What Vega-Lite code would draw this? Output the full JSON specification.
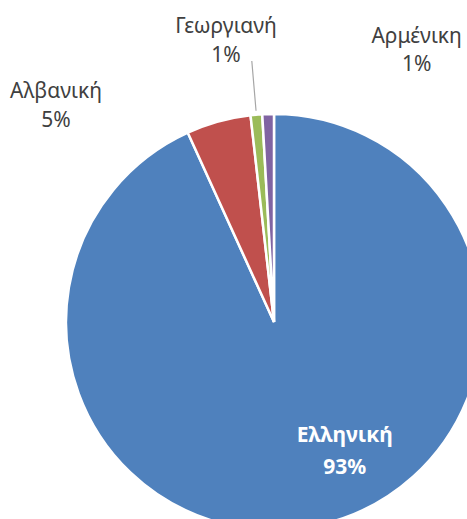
{
  "$schema": "https://vega.github.io/schema/vega-lite/v6.json",
  "width": 548,
  "height": 644,
  "autosize": {"type": "none"},
  "padding": 0,
  "background": "white",
  "config": {"view": {"stroke": null}, "text": {"font": "Noto Sans"}},
  "data": {
    "values": [
      {"lang": "Ελληνική", "share": 93.2, "pct": "93%", "ord": 1},
      {"lang": "Αλβανική", "share": 5.0, "pct": "5%", "ord": 2},
      {"lang": "Γεωργιανή", "share": 0.9, "pct": "1%", "ord": 3},
      {"lang": "Αρμένικη", "share": 0.9, "pct": "1%", "ord": 4}
    ]
  },
  "encoding": {
    "theta": {"field": "share", "type": "quantitative", "stack": true},
    "order": {"field": "ord", "type": "quantitative"}
  },
  "layer": [
    {
      "mark": {"type": "arc", "outerRadius": 208, "stroke": "white", "strokeWidth": 2.5},
      "encoding": {
        "color": {
          "field": "lang",
          "type": "nominal",
          "scale": {
            "domain": ["Ελληνική", "Αλβανική", "Γεωργιανή", "Αρμένικη"],
            "range": ["#4F81BD", "#C0504D", "#9BBB59", "#8064A2"]
          },
          "legend": null
        }
      }
    },
    {
      "mark": {"type": "arc", "outerRadius": 262, "innerRadius": 212, "padAngle": 3, "filled": false, "stroke": "#A6A6A6", "strokeWidth": 1.2},
      "encoding": {
        "detail": {"field": "lang", "type": "nominal"},
        "strokeOpacity": {"condition": {"test": "datum.lang === 'Γεωργιανή'", "value": 1}, "value": 0}
      }
    },
    {
      "mark": {"type": "text", "radius": 140, "dx": 41, "dy": -17, "align": "center", "baseline": "alphabetic", "fontSize": 21, "fontWeight": "bold", "color": "white"},
      "encoding": {
        "detail": {"field": "lang", "type": "nominal"},
        "text": {"condition": {"test": "datum.lang === 'Ελληνική'", "field": "lang"}, "value": ""}
      }
    },
    {
      "mark": {"type": "text", "radius": 140, "dx": 41, "dy": 15, "align": "center", "baseline": "alphabetic", "fontSize": 21, "fontWeight": "bold", "color": "white"},
      "encoding": {
        "detail": {"field": "lang", "type": "nominal"},
        "text": {"condition": {"test": "datum.lang === 'Ελληνική'", "field": "pct"}, "value": ""}
      }
    },
    {
      "mark": {"type": "text", "radius": 240, "dx": -154, "dy": 7, "align": "center", "baseline": "alphabetic", "fontSize": 21, "color": "#404040"},
      "encoding": {
        "detail": {"field": "lang", "type": "nominal"},
        "text": {"condition": {"test": "datum.lang === 'Αλβανική'", "field": "lang"}, "value": ""}
      }
    },
    {
      "mark": {"type": "text", "radius": 240, "dx": -154, "dy": 36, "align": "center", "baseline": "alphabetic", "fontSize": 21, "color": "#404040"},
      "encoding": {
        "detail": {"field": "lang", "type": "nominal"},
        "text": {"condition": {"test": "datum.lang === 'Αλβανική'", "field": "pct"}, "value": ""}
      }
    },
    {
      "mark": {"type": "text", "radius": 260, "dx": -26, "dy": -30, "align": "center", "baseline": "alphabetic", "fontSize": 21, "color": "#404040"},
      "encoding": {
        "detail": {"field": "lang", "type": "nominal"},
        "text": {"condition": {"test": "datum.lang === 'Γεωργιανή'", "field": "lang"}, "value": ""}
      }
    },
    {
      "mark": {"type": "text", "radius": 260, "dx": -26, "dy": -1, "align": "center", "baseline": "alphabetic", "fontSize": 21, "color": "#404040"},
      "encoding": {
        "detail": {"field": "lang", "type": "nominal"},
        "text": {"condition": {"test": "datum.lang === 'Γεωργιανή'", "field": "pct"}, "value": ""}
      }
    },
    {
      "mark": {"type": "text", "radius": 260, "dx": 150, "dy": -19, "align": "center", "baseline": "alphabetic", "fontSize": 21, "color": "#404040"},
      "encoding": {
        "detail": {"field": "lang", "type": "nominal"},
        "text": {"condition": {"test": "datum.lang === 'Αρμένικη'", "field": "lang"}, "value": ""}
      }
    },
    {
      "mark": {"type": "text", "radius": 260, "dx": 150, "dy": 9, "align": "center", "baseline": "alphabetic", "fontSize": 21, "color": "#404040"},
      "encoding": {
        "detail": {"field": "lang", "type": "nominal"},
        "text": {"condition": {"test": "datum.lang === 'Αρμένικη'", "field": "pct"}, "value": ""}
      }
    }
  ]
}
